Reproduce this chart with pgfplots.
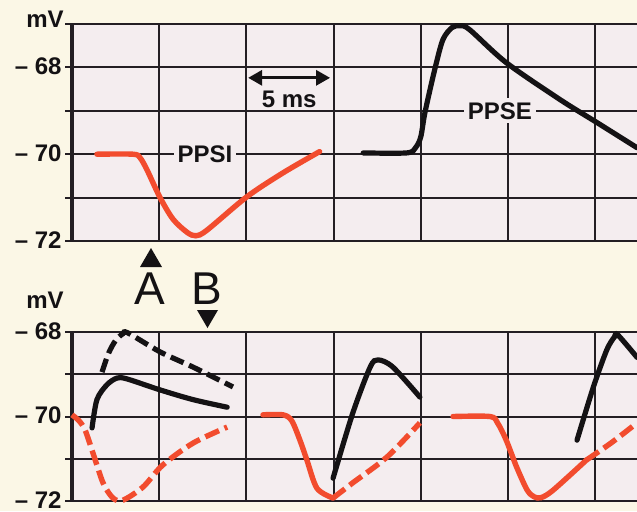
\documentclass[border=0pt]{standalone}
\usepackage{fontspec}
\setmainfont{Liberation Sans}
\usepackage{pgfplots}
\pgfplotsset{compat=1.18}
\usetikzlibrary{arrows.meta}
\definecolor{outerbg}{RGB}{251,247,230}
\definecolor{gridbg}{RGB}{244,237,239}
\definecolor{gridc}{RGB}{35,30,35}
\definecolor{ppred}{RGB}{242,76,46}
\definecolor{ink}{RGB}{20,18,20}
\pgfplotsset{panel/.style={
  scale only axis, width=282.5pt, xmin=0, xmax=32.4,
  axis background/.style={fill=gridbg},
  axis lines=left, axis line style={-},
  x axis line style={draw=none},
  y axis line style={line width=2pt, color=gridc},
  xtick={0,5,...,30}, xticklabels={{},{},{},{},{},{},{}},
  xtick style={draw=none},
  grid=major, major grid style={line width=1pt, color=gridc},
  tick align=outside, major tick length=3.5pt,
  ytick style={line width=1pt, color=gridc},
  yticklabel style={font=\fontsize{12}{12}\selectfont\bfseries, inner sep=0pt, xshift=-1.5pt, yshift=0.5pt, text=ink},
  clip=false,
}}
\begin{document}
\begin{tikzpicture}
\useasboundingbox (0,0) rectangle (318.5pt,255.5pt);
\fill[outerbg] (0,0) rectangle (318.5pt,255.5pt);
% top panel
\begin{axis}[panel, at={(36pt,135pt)}, anchor=south west, height=108.5pt,
  ymin=-72, ymax=-67, ytick={-72,-71,...,-67},
  yticklabels={{– 72},{},{– 70},{},{– 68},{}}]
\addplot[ppred, line width=2.7pt, line cap=round, smooth, tension=0.5] coordinates {
 (1.43,-70) (3.5,-70) (3.9,-70.08) (4.3,-70.36) (5.05,-71.0) (5.8,-71.5) (6.6,-71.8)
 (7.1,-71.88) (7.74,-71.75) (10.03,-70.98) (12.1,-70.43) (14.2,-69.94)};
\addplot[ink, line width=2.6pt, line cap=round, smooth, tension=0.5] coordinates {
 (16.7,-69.97) (19.2,-69.97) (19.7,-69.85) (20.0,-69.6) (20.24,-69.04) (20.8,-68.05)
 (21.27,-67.36) (21.8,-67.08) (22.25,-67.04) (22.8,-67.13) (24.9,-67.89) (27.98,-68.74)
 (30.1,-69.27) (32.4,-69.85)};
\node[fill=gridbg, inner sep=2pt, text=ink, font=\fontsize{12}{12}\selectfont\bfseries] at (axis cs:7.63,-70) {PPSI};
\node[fill=gridbg, inner sep=2pt, text=ink, font=\fontsize{12}{12}\selectfont\bfseries] at (axis cs:24.54,-69) {PPSE};
\draw[ink, line width=1.5pt, {Triangle[width=7.5pt,length=7pt]}-{Triangle[width=7.5pt,length=7pt]}] (axis cs:10.1,-68.24) -- (axis cs:14.8,-68.24);
\node[text=ink, font=\fontsize{12}{12}\selectfont\bfseries] at (axis cs:12.45,-68.74) {5 ms};
\end{axis}
% bottom panel
\begin{axis}[panel, at={(36pt,5pt)}, anchor=south west, height=84.5pt,
  ymin=-72, ymax=-68, ytick={-72,-71,...,-68},
  yticklabels={{– 72},{},{– 70},{},{– 68}}]
\addplot[ppred, line width=2.7pt, dash pattern=on 7.5pt off 3pt, smooth, tension=0.5] coordinates {
 (0,-69.96) (0.4,-70.1) (0.75,-70.32) (1.2,-70.86) (1.78,-71.57) (2.35,-71.93) (2.92,-71.98)
 (4.07,-71.67) (5.2,-71.15) (6.94,-70.63) (8.9,-70.25)};
\addplot[ink, line width=2.6pt, line cap=round, smooth, tension=0.5] coordinates {
 (1.15,-70.27) (1.43,-69.6) (2.0,-69.25) (2.58,-69.09) (3.15,-69.11) (5.05,-69.37) (6.94,-69.6) (8.9,-69.78)};
\addplot[ink, line width=2.6pt, dash pattern=on 7pt off 3pt, smooth, tension=0.5] coordinates {
 (1.72,-68.95) (2.1,-68.5) (2.5,-68.2) (2.92,-68.04) (3.2,-68.02) (5.05,-68.47) (6.94,-68.83) (9.23,-69.3)};
\addplot[ppred, line width=2.7pt, line cap=round, smooth, tension=0.5] coordinates {
 (10.95,-69.96) (12.1,-69.96) (12.6,-70.1) (13.07,-70.56) (13.47,-71.03) (14.05,-71.7) (14.97,-71.93)};
\addplot[ppred, line width=2.7pt, dash pattern=on 7.5pt off 3pt, smooth, tension=0.5] coordinates {
 (14.97,-71.93) (16.1,-71.57) (18.06,-70.96) (19.95,-70.15)};
\addplot[ink, line width=2.6pt, line cap=round, smooth, tension=0.5] coordinates {
 (14.97,-71.46) (16.1,-69.92) (17.1,-68.83) (17.55,-68.66) (18.4,-68.83) (19.95,-69.54)};
\addplot[ppred, line width=2.7pt, line cap=round, smooth, tension=0.5] coordinates {
 (21.85,-70.0) (23.97,-70.0) (24.4,-70.15) (24.9,-70.56) (25.5,-71.2) (26.1,-71.74) (26.5,-71.9)
 (26.9,-71.92) (27.6,-71.74) (29.5,-71.03)};
\addplot[ppred, line width=2.7pt, dash pattern=on 7.5pt off 3pt, smooth, tension=0.5] coordinates {
 (29.5,-71.03) (31.0,-70.6) (32.4,-70.15)};
\addplot[ink, line width=2.6pt, line cap=round, smooth, tension=0.5] coordinates {
 (28.96,-70.56) (29.9,-69.3) (30.66,-68.43) (31.1,-68.12) (31.3,-68.07) (32.4,-68.6)};
\end{axis}
% units and markers
\node[text=ink, font=\fontsize{12}{12}\selectfont\bfseries] at (22.5pt,246pt) {mV};
\node[text=ink, font=\fontsize{12}{12}\selectfont\bfseries] at (22.5pt,105.5pt) {mV};
\fill[ink] (70pt,122pt) -- (81pt,122pt) -- (75.5pt,131.5pt) -- cycle;
\fill[ink] (98.5pt,100.5pt) -- (109pt,100.5pt) -- (103.75pt,91.5pt) -- cycle;
\node[text=ink, font=\fontsize{23}{23}\selectfont] at (75pt,111pt) {A};
\node[text=ink, font=\fontsize{23}{23}\selectfont] at (103.5pt,111pt) {B};
\end{tikzpicture}
\end{document}
